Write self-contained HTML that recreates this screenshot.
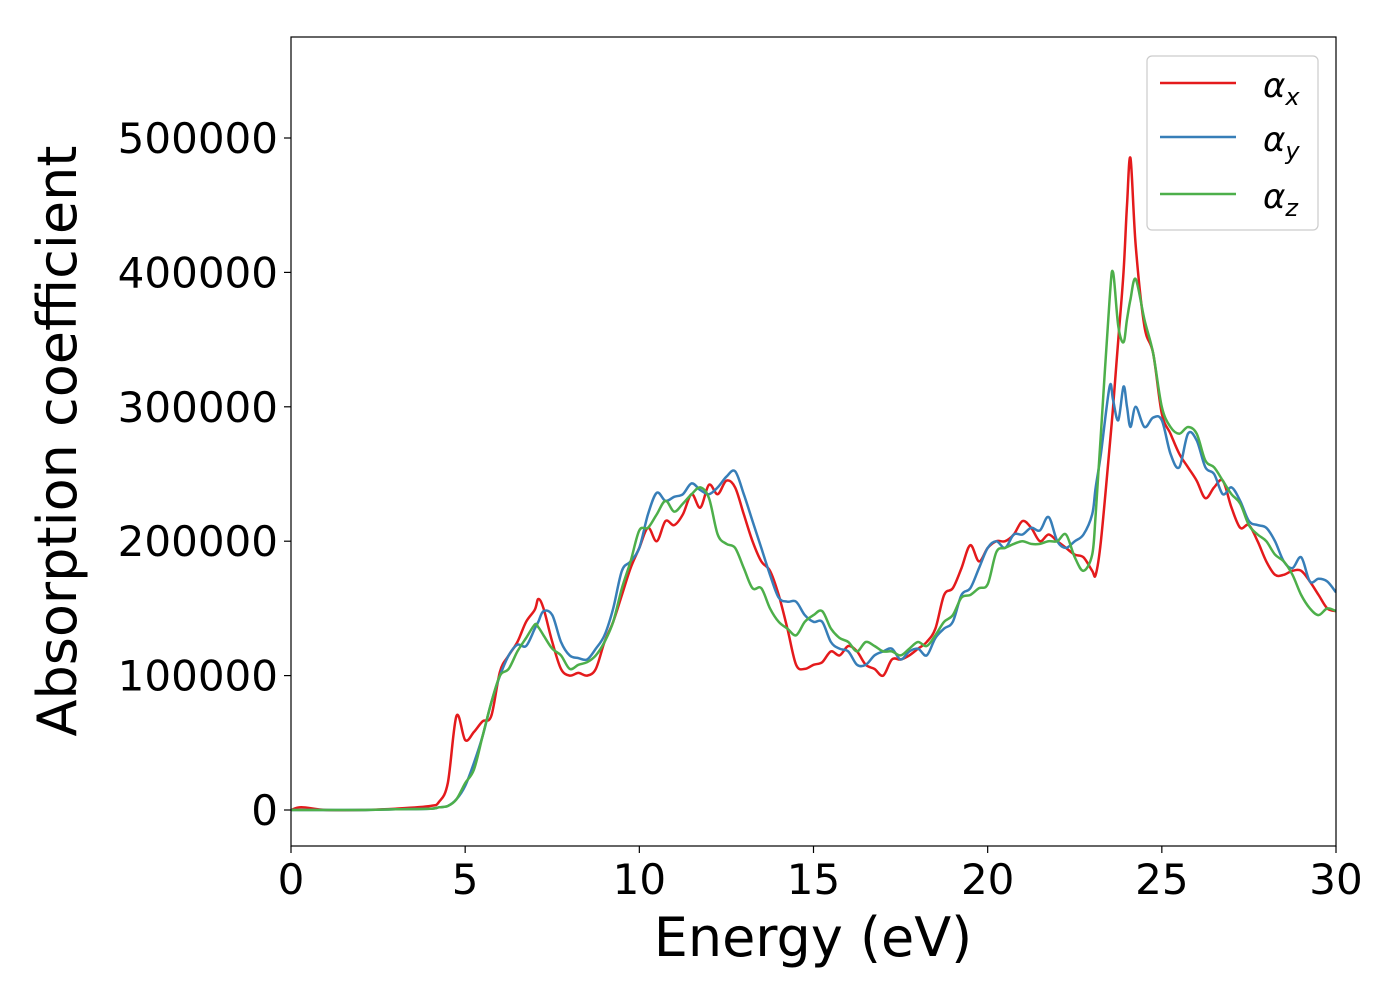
<!DOCTYPE html>
<html><head><meta charset="utf-8"><style>
body{margin:0;background:#fff;}
svg{display:block;font-family:"DejaVu Sans","Liberation Sans",sans-serif;}
</style></head><body>
<svg id="chart" width="1400" height="1000" viewBox="0 0 1400 1000">
<rect x="0" y="0" width="1400" height="1000" fill="#fff"/>
<g id="series"></g>
<rect x="291" y="37" width="1045" height="809" fill="none" stroke="#000" stroke-width="1.2"/>
<g id="xticks"></g>
<g id="yticks"></g>
<text x="813" y="956" font-size="54" text-anchor="middle">Energy (eV)</text>
<text transform="translate(76,441) rotate(-90)" font-size="54" text-anchor="middle">Absorption coefficient</text>
<g>
<rect x="1147" y="56" width="171" height="174" rx="5" fill="#fff" stroke="#ccc" stroke-width="1.2"/>
<line x1="1160" y1="83" x2="1236" y2="83" stroke="#e41a1c" stroke-width="2.5"/>
<text x="1263" y="97" font-size="34" font-style="italic">α<tspan font-size="24" dy="8">x</tspan></text>
<line x1="1160" y1="137" x2="1236" y2="137" stroke="#377eb8" stroke-width="2.5"/>
<text x="1263" y="151" font-size="34" font-style="italic">α<tspan font-size="24" dy="8">y</tspan></text>
<line x1="1160" y1="194" x2="1236" y2="194" stroke="#4daf4a" stroke-width="2.5"/>
<text x="1263" y="208" font-size="34" font-style="italic">α<tspan font-size="24" dy="8">z</tspan></text>
</g>
</svg>
<script>
const energy=[0,0.3,1,2,3,4,4.25,4.5,4.75,5,5.25,5.5,5.75,6,6.25,6.5,6.75,7,7.1,7.25,7.5,7.75,8,8.25,8.5,8.75,9,9.25,9.5,9.75,10,10.25,10.5,10.75,11,11.25,11.5,11.75,12,12.25,12.5,12.75,13,13.25,13.5,13.75,14,14.25,14.5,14.75,15,15.25,15.5,15.75,16,16.25,16.5,16.75,17,17.25,17.5,17.75,18,18.25,18.5,18.75,19,19.25,19.5,19.75,20,20.25,20.5,20.75,21,21.25,21.5,21.75,22,22.25,22.5,22.75,23,23.1,23.25,23.5,23.6,23.75,23.9,24,24.1,24.25,24.5,24.75,25,25.25,25.5,25.75,26,26.25,26.5,26.75,27,27.25,27.5,27.75,28,28.25,28.5,28.75,29,29.25,29.5,29.75,30];
const alphaX=[0,2000,0,0,1000,3000,6000,20000,70000,52000,58000,66000,70000,103000,115000,125000,140000,149000,157000,150000,125000,105000,100000,102000,100000,105000,125000,140000,160000,180000,195000,210000,200000,215000,212000,220000,235000,225000,242000,235000,245000,240000,220000,200000,185000,178000,160000,135000,108000,105000,108000,110000,118000,115000,122000,118000,108000,105000,100000,112000,112000,115000,120000,125000,135000,160000,165000,180000,197000,185000,195000,200000,200000,205000,215000,210000,200000,205000,200000,195000,190000,188000,178000,175000,200000,270000,300000,350000,400000,450000,485000,420000,360000,340000,295000,280000,265000,255000,245000,232000,240000,245000,225000,210000,212000,200000,185000,175000,175000,178000,178000,170000,160000,150000,148000];
const alphaY=[0,0,0,0,500,1000,2000,3000,8000,18000,35000,55000,80000,100000,115000,123000,122000,135000,140000,148000,145000,125000,115000,113000,112000,120000,130000,150000,178000,185000,195000,220000,236000,230000,233000,235000,243000,238000,235000,240000,248000,252000,235000,215000,195000,175000,158000,155000,155000,145000,140000,140000,125000,120000,118000,108000,108000,115000,118000,120000,112000,118000,120000,115000,128000,135000,140000,160000,165000,180000,195000,200000,195000,205000,205000,210000,208000,218000,200000,195000,200000,205000,220000,240000,265000,315000,305000,290000,315000,300000,285000,300000,285000,292000,290000,265000,255000,280000,275000,255000,250000,235000,240000,230000,215000,212000,210000,200000,185000,180000,188000,170000,172000,170000,162000];
const alphaZ=[0,0,0,0,500,1000,2000,3000,8000,20000,30000,55000,80000,100000,105000,118000,128000,138000,136000,130000,120000,115000,105000,108000,110000,115000,125000,140000,165000,185000,208000,210000,220000,230000,222000,228000,235000,240000,232000,205000,198000,195000,180000,165000,165000,150000,140000,135000,130000,140000,145000,148000,135000,128000,125000,118000,125000,122000,118000,118000,115000,120000,125000,122000,130000,140000,145000,158000,160000,165000,168000,192000,195000,198000,200000,198000,198000,200000,200000,205000,188000,178000,190000,220000,280000,380000,400000,360000,348000,365000,380000,395000,365000,340000,300000,285000,280000,285000,280000,260000,255000,245000,235000,228000,212000,205000,200000,190000,185000,175000,160000,150000,145000,150000,148000];
const xTicks=[0,5,10,15,20,25,30];
const yTicks=[0,100000,200000,300000,400000,500000];
const X0=291,X1=1336,Y0=810,YPER=134.4/100000;
const xs=v=>X0+(v-0)/(30-0)*(X1-X0);
const ys=v=>Y0-v*YPER;
const NS="http://www.w3.org/2000/svg";
function smoothPath(ex,vals){
  const p=ex.map((e,i)=>[xs(e),ys(vals[i])]);
  let d="M"+p[0][0].toFixed(1)+","+p[0][1].toFixed(1);
  for(let i=0;i<p.length-1;i++){
    const a=p[Math.max(0,i-1)],b=p[i],c=p[i+1],e=p[Math.min(p.length-1,i+2)];
    const c1=[b[0]+(c[0]-a[0])/6,b[1]+(c[1]-a[1])/6];
    const c2=[c[0]-(e[0]-b[0])/6,c[1]-(e[1]-b[1])/6];
    d+=" C"+c1[0].toFixed(1)+","+c1[1].toFixed(1)+" "+c2[0].toFixed(1)+","+c2[1].toFixed(1)+" "+c[0].toFixed(1)+","+c[1].toFixed(1);
  }
  return d;
}
const sg=document.getElementById("series");
const clip=document.createElementNS(NS,"clipPath");clip.setAttribute("id","pc");
const cr=document.createElementNS(NS,"rect");cr.setAttribute("x",X0);cr.setAttribute("y",37);cr.setAttribute("width",X1-X0);cr.setAttribute("height",809);
clip.appendChild(cr);sg.appendChild(clip);
[[alphaX,"#e41a1c","line-alpha-x"],[alphaY,"#377eb8","line-alpha-y"],[alphaZ,"#4daf4a","line-alpha-z"]].forEach(s=>{
  const path=document.createElementNS(NS,"path");
  path.setAttribute("d",smoothPath(energy,s[0]));
  path.setAttribute("fill","none");path.setAttribute("stroke",s[1]);path.setAttribute("stroke-width","2.5");
  path.setAttribute("clip-path","url(#pc)");
  
  
  sg.appendChild(path);
});
const xg=document.getElementById("xticks");
xTicks.forEach(t=>{
  const l=document.createElementNS(NS,"line");
  l.setAttribute("x1",xs(t));l.setAttribute("x2",xs(t));l.setAttribute("y1",846);l.setAttribute("y2",853);l.setAttribute("stroke","#000");l.setAttribute("stroke-width","1.2");
  
  
  xg.appendChild(l);
  const tx=document.createElementNS(NS,"text");
  tx.setAttribute("x",xs(t));tx.setAttribute("y",894);tx.setAttribute("font-size","42");tx.setAttribute("text-anchor","middle");
  tx.textContent=t;
  
  
  xg.appendChild(tx);
});
const yg=document.getElementById("yticks");
yTicks.forEach(t=>{
  const l=document.createElementNS(NS,"line");
  l.setAttribute("x1",284);l.setAttribute("x2",291);l.setAttribute("y1",ys(t));l.setAttribute("y2",ys(t));l.setAttribute("stroke","#000");l.setAttribute("stroke-width","1.2");
  
  
  yg.appendChild(l);
  const tx=document.createElementNS(NS,"text");
  tx.setAttribute("x",278);tx.setAttribute("y",ys(t)+15);tx.setAttribute("font-size","42");tx.setAttribute("text-anchor","end");
  tx.textContent=t;
  
  
  yg.appendChild(tx);
});
</script>
</body></html>
